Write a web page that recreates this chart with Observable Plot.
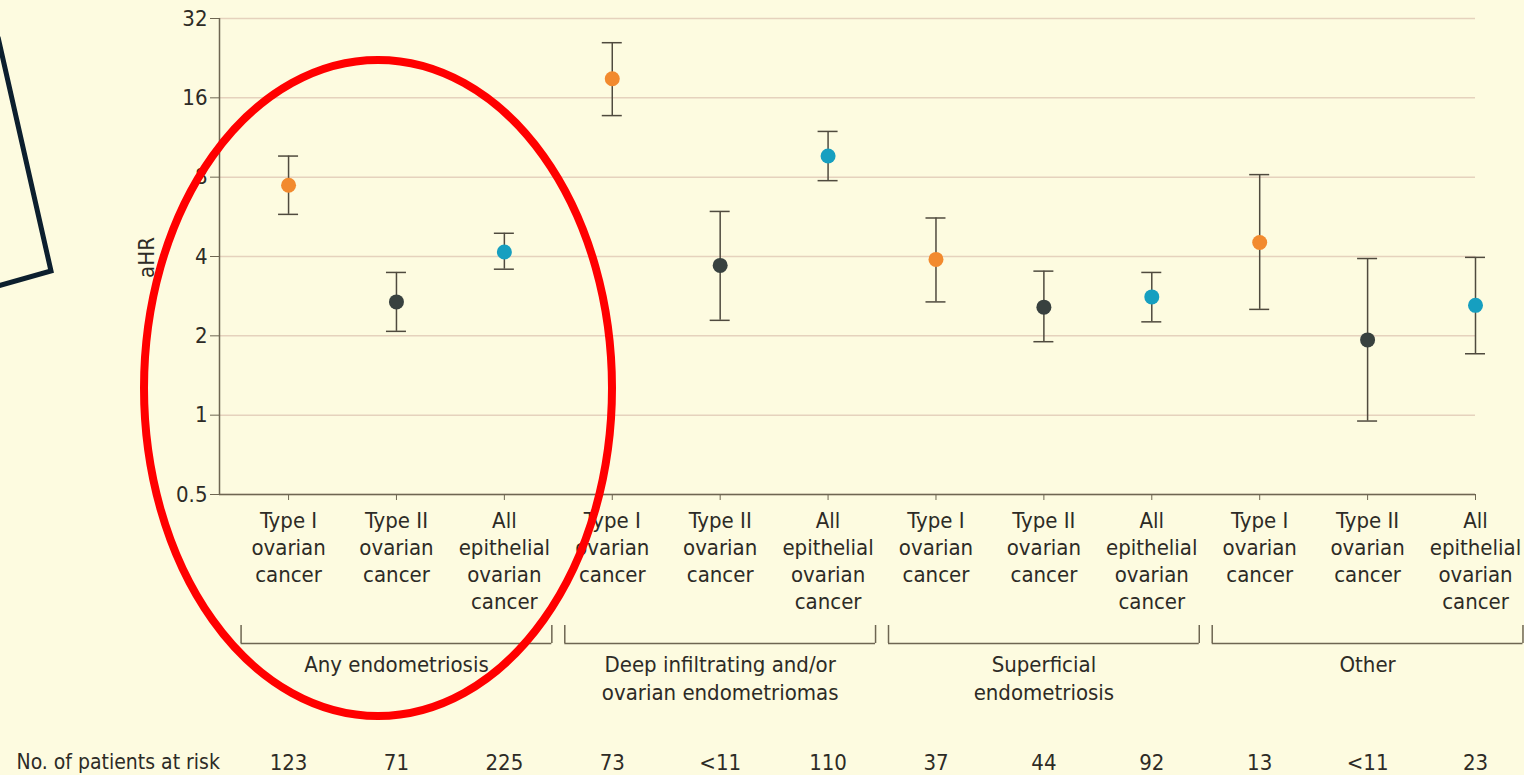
<!DOCTYPE html>
<html><head><meta charset="utf-8">
<script src="https://cdn.jsdelivr.net/npm/d3@7"></script>
<script src="https://cdn.jsdelivr.net/npm/@observablehq/plot@0.6"></script>
<style>
html,body{margin:0;padding:0;background:#fdfbe0;}
#wrap{position:relative;width:1524px;height:775px;overflow:hidden;background:#fdfbe0;}
#overlay{position:absolute;left:0;top:0;pointer-events:none;}
</style></head><body><div id="wrap"></div>
<script>
// ---- data ----
const outcomeLabels = ["Type I\novarian\ncancer", "Type II\novarian\ncancer", "All\nepithelial\novarian\ncancer"];
const outcomeKeys = ["Type I", "Type II", "All"];
const groupLabels = ["Any endometriosis", "Deep infiltrating and/or\novarian endometriomas", "Superficial\nendometriosis", "Other"];
const estimates = [7.45, 2.69, 4.16, 18.9, 3.70, 9.62, 3.90, 2.57, 2.81, 4.52, 1.93, 2.61];
const lower     = [5.78, 2.08, 3.58, 13.7, 2.29, 7.76, 2.69, 1.90, 2.26, 2.52, 0.95, 1.71];
const upper     = [9.62, 3.48, 4.90, 25.9, 5.93, 11.93, 5.60, 3.52, 3.48, 8.18, 3.93, 3.97];
const atRisk    = ["123", "71", "225", "73", "<11", "110", "37", "44", "92", "13", "<11", "23"];
const yTicks = [0.5, 1, 2, 4, 8, 16, 32];
const riskTitle = "No. of patients at risk";
const yLabel = "aHR";

// ---- styles ----
const FONT = '"Liberation Sans Narrow", "DejaVu Sans Condensed", "Roboto", sans-serif';
const FS = 22;
const colors = {"Type I": "#f28a2e", "Type II": "#38413f", "All": "#169fc0"};
const ink = "#2d2b26";
const axisInk = "#6e6652";
const barInk = "#4f4a3e";

const rows = estimates.map((e, i) => ({
  i, est: e, lo: lower[i], hi: upper[i],
  outcome: outcomeKeys[i % 3], label: outcomeLabels[i % 3],
  group: Math.floor(i / 3), risk: atRisk[i]
}));
const groups = groupLabels.map((g, k) => ({label: g, start: k * 3 - 0.44, end: k * 3 + 2.44, mid: k * 3 + 1}));
const xDomain = [-0.64, 11];
const yDomain = [0.5, 32];
const base = () => yDomain[0];

const chart = Plot.plot({
  width: 1524, height: 775,
  marginLeft: 219, marginRight: 49, marginTop: 18, marginBottom: 281,
  style: {background: "transparent", fontFamily: FONT, fontSize: FS + "px", color: ink, overflow: "visible"},
  x: {type: "linear", domain: xDomain, axis: null},
  y: {type: "log", base: 2, domain: yDomain, axis: null},
  marks: [
    Plot.gridY(yTicks, {stroke: "#e5d2bd", strokeOpacity: 1, strokeWidth: 1.5}),
    Plot.axisY(yTicks, {tickFormat: d => String(d), tickSize: 9, tickPadding: 3, label: null, stroke: axisInk, fill: ink, fontSize: FS}),
    Plot.axisX(d3.range(12), {tickFormat: i => outcomeLabels[i % 3], tickSize: 6, tickPadding: 8, label: null, stroke: axisInk, fill: ink, fontSize: FS, lineHeight: 1.23}),
    Plot.ruleX([xDomain[0]], {stroke: axisInk, strokeWidth: 1.5}),
    Plot.ruleY([yDomain[0]], {stroke: axisInk, strokeWidth: 1.5}),
    // error bars
    Plot.ruleX(rows, {x: "i", y1: "lo", y2: "hi", stroke: barInk, strokeWidth: 1.5}),
    Plot.ruleY(rows, {x1: "i", x2: "i", y: "lo", insetLeft: -10, insetRight: -10, stroke: barInk, strokeWidth: 1.5}),
    Plot.ruleY(rows, {x1: "i", x2: "i", y: "hi", insetLeft: -10, insetRight: -10, stroke: barInk, strokeWidth: 1.5}),
    Plot.dot(rows, {x: "i", y: "est", r: 7.5, fill: d => colors[d.outcome], stroke: "none"}),
    // y label
    Plot.text([yLabel], {frameAnchor: "left", dx: -73, dy: 1, rotate: -90, textAnchor: "middle", lineAnchor: "middle", fill: ink, fontSize: FS, text: d => d}),
    // group brackets
    Plot.ruleY(groups, {x1: "start", x2: "end", y: base, dy: 149, stroke: axisInk, strokeWidth: 1.5}),
    Plot.ruleX(groups, {x: "start", y1: base, y2: base, insetTop: -18, dy: 149, stroke: axisInk, strokeWidth: 1.5}),
    Plot.ruleX(groups, {x: "end", y1: base, y2: base, insetTop: -18, dy: 149, stroke: axisInk, strokeWidth: 1.5}),
    Plot.text(groups, {x: "mid", y: base, dy: 158, text: "label", lineAnchor: "top", lineHeight: 1.27, fill: ink, fontSize: FS}),
    // at-risk row
    Plot.text(rows, {x: "i", y: base, dy: 268, text: "risk", lineAnchor: "middle", fill: ink, fontSize: FS}),
    Plot.text([riskTitle], {frameAnchor: "bottom-left", dx: -203, dy: 268, text: d => d, textAnchor: "start", lineAnchor: "middle", fill: ink, fontSize: FS - 1})
  ]
});
const wrap = document.getElementById("wrap");
wrap.appendChild(chart);

// ---- annotation overlay (hand-drawn marks on the reference picture) ----
const ns = "http://www.w3.org/2000/svg";
const ov = document.createElementNS(ns, "svg");
ov.setAttribute("id", "overlay");
ov.setAttribute("width", 1524); ov.setAttribute("height", 775);
ov.innerHTML = `
  <polyline points="-2,37 51,271 -2,286" fill="none" stroke="#0c1f2e" stroke-width="5" stroke-linejoin="miter"/>
  <ellipse cx="378" cy="388" rx="234" ry="328" fill="none" stroke="#ff0000" stroke-width="8"/>
`;
wrap.appendChild(ov);
</script>
</body></html>
